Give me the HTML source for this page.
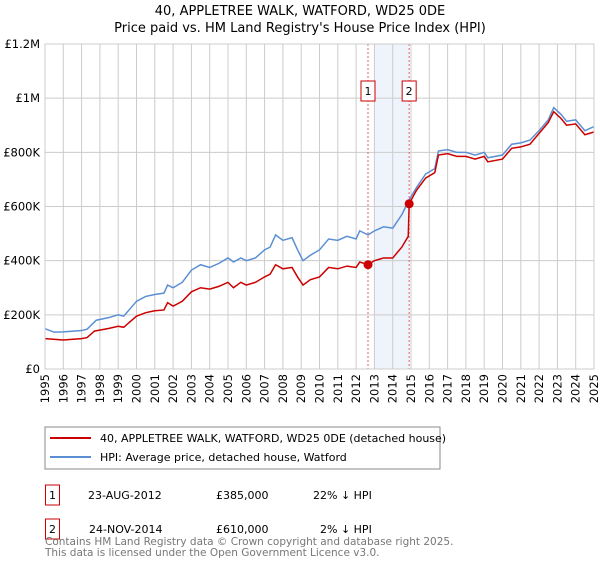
<!DOCTYPE html>
<html><head><meta charset="utf-8"><style>
body{margin:0;background:#fff;font-family:"Liberation Sans","DejaVu Sans",sans-serif;}
svg text{font-family:"DejaVu Sans","Liberation Sans",sans-serif;}
</style></head><body>
<svg width="600" height="560" viewBox="0 0 600 560">
<text x="300" y="15" text-anchor="middle" font-size="13">40, APPLETREE WALK, WATFORD, WD25 0DE</text>
<text x="300" y="32" text-anchor="middle" font-size="13">Price paid vs. HM Land Registry's House Price Index (HPI)</text>
<g id="plot"></g>
<rect x="45" y="427" width="395" height="42" fill="#fff" stroke="#888"/>
<line x1="50" y1="438" x2="91" y2="438" stroke="#cc0000" stroke-width="2"/>
<text x="100" y="442" font-size="11">40, APPLETREE WALK, WATFORD, WD25 0DE (detached house)</text>
<line x1="50" y1="457" x2="91" y2="457" stroke="#5b8fd3" stroke-width="2"/>
<text x="100" y="461" font-size="11">HPI: Average price, detached house, Watford</text>
<g font-size="11">
<rect x="45.5" y="485" width="14" height="20" fill="none" stroke="#cc0000"/>
<text x="52.5" y="499" text-anchor="middle">1</text>
<text x="88" y="499">23-AUG-2012</text>
<text x="216" y="499">£385,000</text>
<text x="313" y="499">22% ↓ HPI</text>
<rect x="45.5" y="519" width="14" height="20" fill="none" stroke="#cc0000"/>
<text x="52.5" y="533" text-anchor="middle">2</text>
<text x="89" y="533">24-NOV-2014</text>
<text x="216" y="533">£610,000</text>
<text x="320" y="533">2% ↓ HPI</text>
</g>
<text x="45" y="545" font-size="10.5" fill="#777">Contains HM Land Registry data © Crown copyright and database right 2025.</text>
<text x="45" y="556" font-size="10.5" fill="#777">This data is licensed under the Open Government Licence v3.0.</text>
</svg>
<script>
const yTicks=[0,200000,400000,600000,800000,1000000,1200000];
const yTickLabels=["£0","£200K","£400K","£600K","£800K","£1M","£1.2M"];
const xYears=[1995,1996,1997,1998,1999,2000,2001,2002,2003,2004,2005,2006,2007,2008,2009,2010,2011,2012,2013,2014,2015,2016,2017,2018,2019,2020,2021,2022,2023,2024,2025];
const hpiT=[1995,1995.5,1996,1997,1997.3,1997.8,1998.5,1999,1999.3,2000,2000.5,2001,2001.5,2001.7,2002,2002.5,2003,2003.5,2004,2004.5,2005,2005.3,2005.7,2006,2006.5,2007,2007.3,2007.6,2008,2008.5,2008.8,2009.1,2009.5,2010,2010.5,2011,2011.5,2012,2012.2,2012.65,2013,2013.5,2014,2014.5,2014.9,2015.3,2015.8,2016.3,2016.5,2017,2017.5,2018,2018.5,2019,2019.2,2020,2020.5,2021,2021.5,2022,2022.5,2022.8,2023.2,2023.5,2024,2024.5,2025];
const hpiV=[149,136,137,142,147,180,190,200,195,250,268,275,280,310,300,320,365,385,375,390,410,395,410,400,410,440,450,495,475,485,440,400,420,440,480,475,490,480,510,495,510,525,520,570,625,670,720,740,805,810,800,800,790,800,780,790,830,835,845,880,920,965,940,915,920,880,895];
const priceT=[1995,1996,1997,1997.3,1997.7,1998.5,1999,1999.3,2000,2000.5,2001,2001.5,2001.7,2002,2002.5,2003,2003.5,2004,2004.5,2005,2005.3,2005.7,2006,2006.5,2007,2007.3,2007.6,2008,2008.5,2008.8,2009.1,2009.5,2010,2010.5,2011,2011.5,2012,2012.2,2012.65,2013,2013.5,2014,2014.5,2014.85,2014.9,2015.3,2015.8,2016.3,2016.5,2017,2017.5,2018,2018.5,2019,2019.2,2020,2020.5,2021,2021.5,2022,2022.5,2022.8,2023.2,2023.5,2024,2024.5,2025];
const priceV=[112,107,112,116,140,150,158,154,195,208,215,218,245,232,250,285,300,295,305,320,300,320,310,320,340,350,385,370,375,340,310,330,340,375,370,380,375,395,385,400,410,410,450,490,610,660,705,725,790,795,785,785,775,785,765,775,815,820,830,870,910,950,925,900,905,865,875];
const saleT=[2012.65,2014.9];
const saleV=[385000,610000];
const saleLabels=["1","2"];
const X0=45,X1=594,Y0=369,Y1=44;
const xs=t=>X0+(t-1995)/30*(X1-X0);
const ys=v=>Y0-v/1200000*(Y0-Y1);
const NS="http://www.w3.org/2000/svg";
const g=document.getElementById('plot');
function mk(tag,attrs,parent){const e=document.createElementNS(NS,tag);for(const k in attrs)e.setAttribute(k,attrs[k]);(parent||g).appendChild(e);return e;}
const shade=mk('rect',{x:xs(2013),y:Y1,width:xs(saleT[1])-xs(2013),height:Y0-Y1,fill:'#eef3fc'});


xYears.forEach(y=>{const l=mk('line',{x1:xs(y),x2:xs(y),y1:Y1,y2:Y0,stroke:'#ccc'});


const t=mk('text',{x:0,y:0,'font-size':11.5,'text-anchor':'end',transform:`translate(${xs(y)+4},${Y0+5}) rotate(-90)`});t.textContent=y;

});
yTicks.forEach((v,i)=>{const l=mk('line',{x1:X0,x2:X1,y1:ys(v),y2:ys(v),stroke:'#ccc'});


const t=mk('text',{x:X0-5,y:ys(v)+4,'font-size':11.5,'text-anchor':'end'});t.textContent=yTickLabels[i];

});
saleT.forEach((t,i)=>{const l=mk('line',{x1:xs(t),x2:xs(t),y1:Y1,y2:Y0,stroke:'#e06060','stroke-dasharray':'2,2'});


const r=mk('rect',{x:xs(t)-7,y:81,width:14,height:20,fill:'#fff',stroke:'#cc0000'});


const tx=mk('text',{x:xs(t),y:95,'font-size':11,'text-anchor':'middle'});tx.textContent=saleLabels[i];

});
function line(T,V,color,name){const p=mk('polyline',{points:T.map((t,i)=>xs(t)+','+ys(V[i]*1000)).join(' '),fill:'none',stroke:color,'stroke-width':1.5});

}
line(hpiT,hpiV,'#5b8fd3','hpi-line');
line(priceT,priceV,'#cc0000','price-line');
saleT.forEach((t,i)=>{const c=mk('circle',{cx:xs(t),cy:ys(saleV[i]),r:4.5,fill:'#cc0000'});

});
const ax=mk('rect',{x:X0,y:Y1,width:X1-X0,height:Y0-Y1,fill:'none',stroke:'#ccc'});


</script>
</body></html>
